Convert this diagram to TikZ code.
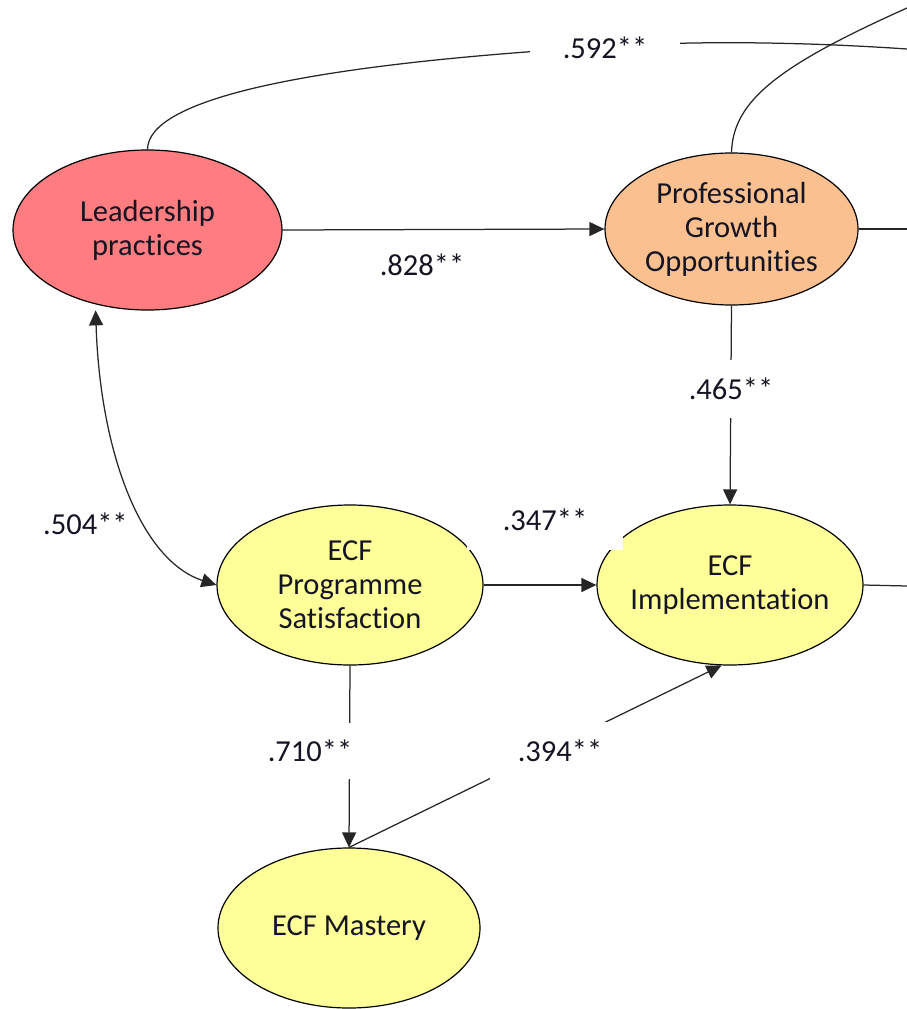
\documentclass[tikz,border=0pt]{standalone}
\usepackage{fontspec}
\setmainfont{Carlito}[Ligatures=NoCommon]
\usetikzlibrary{shapes.geometric,arrows.meta}
\definecolor{leadred}{RGB}{255,124,128}
\definecolor{growthorange}{RGB}{250,192,144}
\definecolor{ecfyellow}{RGB}{255,255,153}
\definecolor{inkdark}{RGB}{20,20,35}

\begin{document}
\begin{tikzpicture}[x=1pt,y=-1pt,
  construct/.style={ellipse, draw=black, line width=1.2pt, inner xsep=-30pt, inner ysep=-10pt,
    align=center, text=inkdark, font=\fontsize{30.5}{34}\selectfont},
  link/.style={line width=1.25pt, draw=black!85},
  tip/.tip={Triangle[length=15pt,width=14pt]},
  arr/.style={link, -tip},
  coef/.style={fill=white, inner sep=0pt, text=inkdark, font=\fontsize{30.5}{34}\selectfont},
]
\useasboundingbox (0,0) rectangle (907,1009);
\clip (0,0) rectangle (907,1009);

% constructs
\node[construct, fill=leadred, minimum width=269pt, minimum height=160pt] (lead) at (147.5,230) {Leadership\\practices};
\node[construct, fill=growthorange, minimum width=253pt, minimum height=152pt] (pgo) at (731.5,229) {Professional\\Growth\\Opportunities};
\node[construct, fill=ecfyellow, minimum width=266pt, minimum height=160pt] (ps) at (350,585) {ECF\\Programme\\Satisfaction};
\node[construct, fill=ecfyellow, minimum width=266pt, minimum height=160pt] (impl) at (730,585) {ECF\\Implementation};
\node[construct, fill=ecfyellow, minimum width=262pt, minimum height=160pt] (mastery) at (349,928) {ECF Mastery};

% paths leaving the visible area
\coordinate (leadfar) at (907,49);
\coordinate (pgofar) at (907,8);
\coordinate (pgoR) at (907,229);
\coordinate (implR) at (907,586);

\draw[link] (lead.north) .. controls (148,100) and (300,65) .. (600,47)
            .. controls (680,41) and (790,41) .. (leadfar);
\draw[link] (pgo.north) .. controls (733,100) and (780,65) .. (pgofar);
\draw[link] (pgo.east) -- (pgoR);
\draw[link] (impl.east) -- (implR);

% structural paths
\draw[arr] (lead.east) -- (pgo.west);
\draw[arr] (pgo.south) -- (impl.north);
\draw[arr] (ps.east) -- (impl.west);
\draw[arr] (ps.south) -- (mastery.north);
\draw[arr] (mastery.north) -- (impl.264);
\draw[link, tip-tip, shorten <=6pt] (lead.235) .. controls (100,450) and (140,560) .. (ps.west);

% coefficients
\node[coef, minimum width=150pt, minimum height=50pt] (c592) at (605,48) {.592**};
\node[coef] (c828) at (422,265) {.828**};
\node[coef, minimum width=95pt, minimum height=58pt] (c465) at (731,389) {.465**};
\node[coef, minimum width=156pt, minimum height=60pt] (c347) at (545,520) {.347**};
\node[coef, minimum height=55pt, anchor=west] (c504) at (38,524) {\hspace{5pt}.504**\hspace{37pt}};
\node[coef, minimum width=100pt, minimum height=56pt] (c710) at (310,751) {.710**};
\node[coef, minimum width=117pt, minimum height=58pt] (c394) at (548,751) {\hspace{24pt}.394**};
\end{tikzpicture}
\end{document}
